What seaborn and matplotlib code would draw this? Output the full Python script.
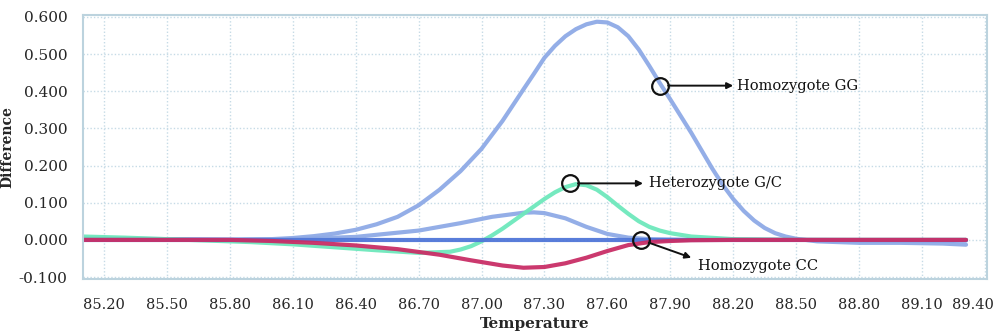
import matplotlib
matplotlib.use("Agg")
import matplotlib.pyplot as plt
from matplotlib.ticker import MultipleLocator, FormatStrFormatter
from matplotlib.transforms import ScaledTranslation
import seaborn as sns
import pandas as pd

# Melting-curve difference plot data (temperature in °C, difference in RFU ratio)
gg_temp = [85.10, 85.50, 85.80, 86.00, 86.10, 86.20, 86.30, 86.40, 86.50, 86.60, 86.70,
           86.80, 86.90, 87.00, 87.10, 87.20, 87.25, 87.30, 87.35, 87.40, 87.45, 87.50,
           87.55, 87.60, 87.65, 87.70, 87.75, 87.80, 87.85, 87.90, 87.95, 88.00, 88.05,
           88.10, 88.15, 88.20, 88.25, 88.30, 88.35, 88.40, 88.45, 88.50, 88.60, 88.80,
           89.00, 89.20, 89.31]
gg_diff = [0.004, 0.002, 0.001, 0.002, 0.005, 0.010, 0.017, 0.027, 0.042, 0.062, 0.093,
           0.135, 0.185, 0.245, 0.320, 0.405, 0.447, 0.490, 0.522, 0.548, 0.567, 0.580,
           0.587, 0.585, 0.572, 0.548, 0.512, 0.468, 0.422, 0.378, 0.333, 0.288, 0.240,
           0.192, 0.148, 0.110, 0.078, 0.052, 0.032, 0.018, 0.009, 0.003, -0.004, -0.008,
           -0.008, -0.010, -0.013]

gg2_temp = [85.10, 85.80, 86.10, 86.40, 86.70, 86.90, 87.05, 87.20, 87.25, 87.30, 87.40,
            87.50, 87.60, 87.70, 87.80, 88.00, 88.50, 89.31]
gg2_diff = [0.003, 0.000, 0.002, 0.008, 0.025, 0.045, 0.062, 0.073, 0.074, 0.072, 0.058,
            0.035, 0.016, 0.006, 0.002, 0.000, 0.000, -0.002]

gc_temp = [85.10, 85.30, 85.50, 85.70, 85.90, 86.10, 86.30, 86.50, 86.70, 86.85, 86.90,
           86.95, 87.00, 87.05, 87.10, 87.15, 87.20, 87.25, 87.30, 87.35, 87.40, 87.45,
           87.50, 87.55, 87.60, 87.65, 87.70, 87.75, 87.80, 87.85, 87.90, 88.00, 88.20,
           88.50, 89.31]
gc_diff = [0.009, 0.006, 0.002, -0.002, -0.006, -0.012, -0.020, -0.028, -0.035, -0.032, -0.026,
           -0.017, -0.004, 0.012, 0.030, 0.050, 0.070, 0.090, 0.110, 0.128, 0.142, 0.150,
           0.147, 0.135, 0.115, 0.092, 0.070, 0.050, 0.035, 0.025, 0.018, 0.009, 0.002,
           0.000, 0.000]

cc_temp = [85.10, 85.80, 86.00, 86.20, 86.40, 86.60, 86.80, 86.95, 87.10, 87.20, 87.30,
           87.40, 87.50, 87.60, 87.70, 87.80, 87.90, 88.00, 88.20, 89.31]
cc_diff = [0.000, 0.000, -0.003, -0.008, -0.015, -0.025, -0.040, -0.055, -0.069, -0.075, -0.073,
           -0.063, -0.048, -0.030, -0.014, -0.006, -0.003, -0.001, 0.000, 0.000]

ref_temp = [85.10, 89.31]
ref_diff = [0.000, 0.000]

series = {
    "GG": (gg_temp, gg_diff),
    "GG2": (gg2_temp, gg2_diff),
    "GC": (gc_temp, gc_diff),
    "REF": (ref_temp, ref_diff),
    "CC": (cc_temp, cc_diff),
}
frames = [pd.DataFrame({"Temperature": t, "Difference": d, "sample": k})
          for k, (t, d) in series.items()]
df = pd.concat(frames, ignore_index=True)

palette = {"GG": "#8eaae6", "GG2": "#8eaae6", "GC": "#6ee8bc", "REF": "#5076d8", "CC": "#c92e66"}

x_ticks = [85.20, 85.50, 85.80, 86.10, 86.40, 86.70, 87.00, 87.30, 87.60, 87.90,
           88.20, 88.50, 88.80, 89.10, 89.40]

sns.set_style("white")
plt.rcParams["font.family"] = ["DejaVu Serif"]

fig = plt.figure(figsize=(10, 3.34), dpi=100)
ax = fig.add_axes([0.083, 0.165, 0.904, 0.79])

sns.lineplot(data=df, x="Temperature", y="Difference", hue="sample",
             hue_order=list(series.keys()), palette=palette, sort=False,
             estimator=None, linewidth=3, alpha=0.95, legend=False, ax=ax)

ax.set_xlim(85.10, 89.41)
ax.set_ylim(-0.105, 0.605)
ax.set_xticks(x_ticks)
ax.xaxis.set_minor_locator(MultipleLocator(0.1))
ax.yaxis.set_major_locator(MultipleLocator(0.1))
ax.yaxis.set_minor_locator(MultipleLocator(0.02))
ax.xaxis.set_major_formatter(FormatStrFormatter("%.2f"))
ax.yaxis.set_major_formatter(FormatStrFormatter("%.3f"))

grid_col = "#c6dbe6"
ax.grid(True, which="major", color=grid_col, linestyle=(0, (1, 1.5)), linewidth=1)
for s in ax.spines.values():
    s.set_color("#bcd3de")
    s.set_linewidth(1.5)
ax.tick_params(axis="both", which="both", color="#bcd3de", direction="out")
ax.tick_params(axis="x", which="major", length=5, pad=9, labelsize=10.5)
ax.tick_params(axis="x", which="minor", length=5)
ax.tick_params(axis="y", which="major", length=4, pad=7, labelsize=11)
ax.tick_params(axis="y", which="minor", length=3)

# keep the last temperature label inside the figure
fig.canvas.draw()
last = ax.get_xticklabels()[-1]
last.set_transform(last.get_transform() + ScaledTranslation(-12 / 100, 0, fig.dpi_scale_trans))

ax.set_xlabel("Temperature", fontsize=11, fontweight="bold", labelpad=3)
ax.set_ylabel("Difference", fontsize=10, fontweight="bold")
ax.yaxis.set_label_coords(-0.076, 0.5)

# Genotype call-outs
callouts = [
    ("Homozygote GG", (87.85, 0.415), (88.20, 0.415), (88.22, 0.415)),
    ("Heterozygote G/C", (87.42, 0.152), (87.77, 0.152), (87.80, 0.152)),
    ("Homozygote CC", (87.76, 0.000), (88.00, -0.048), (88.03, -0.070)),
]
for label, pt, tip, txt in callouts:
    ax.plot(*pt, marker="o", markersize=12, markerfacecolor="none",
            markeredgecolor="#111111", markeredgewidth=1.6, zorder=6)
    ax.annotate("", xy=tip, xytext=pt,
                arrowprops=dict(arrowstyle="-|>", color="#111111", lw=1.4,
                                shrinkA=6, shrinkB=0, mutation_scale=9), zorder=6)
    ax.text(txt[0], txt[1], label, fontsize=10.5, va="center", ha="left", color="#111111")

fig.savefig("out.png", dpi=100)
